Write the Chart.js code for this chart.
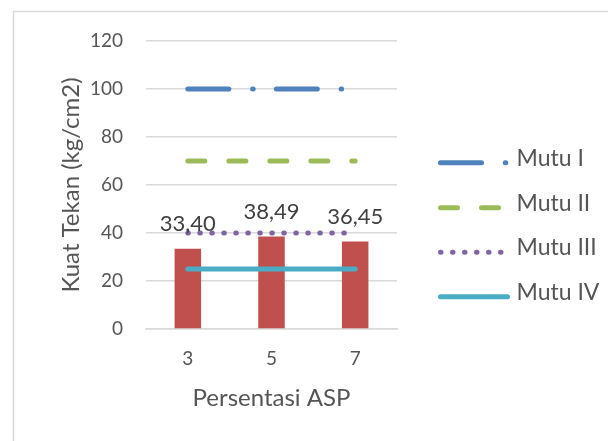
<!DOCTYPE html>
<html>
<head>
<meta charset="utf-8">
<script src="https://cdn.jsdelivr.net/npm/chart.js@4.4.1/dist/chart.umd.min.js"></script>
<style>
  html, body { margin: 0; padding: 0; background: #ffffff; }
  #wrap { width: 608px; height: 441px; position: relative; }
</style>
</head>
<body>
<div id="wrap"><canvas id="c" width="608" height="441"></canvas></div>
<script>
// Persentasi ASP categories
const categories = ['3', '5', '7'];
// Measured compressive strength (kg/cm2)
const kuatTekan = [33.40, 38.49, 36.45];
// Quality class reference levels
const mutuNames = ['Mutu I', 'Mutu II', 'Mutu III', 'Mutu IV'];
const mutuLevels = [100, 70, 40, 25];
const yTicks = [0, 20, 40, 60, 80, 100, 120];

const mutuColors = ['#4F81BD', '#9BBB59', '#8064A2', '#4BACC6'];
const mutuDash = [[41, 23.8, 0.5, 23.2], [17, 24], [0.5, 11.5], []];

const FONT = 'Lato, "Open Sans", sans-serif';
const GREY = '#555555';

const lineSets = mutuNames.map((name, i) => ({
  type: 'line',
  label: name,
  data: categories.map(() => mutuLevels[i]),
  borderColor: mutuColors[i],
  backgroundColor: mutuColors[i],
  borderWidth: 5,
  borderDash: mutuDash[i],
  borderCapStyle: 'round',
  pointRadius: 0,
  pointHoverRadius: 0,
  tension: 0,
  order: 0
}));

// Light frame around the chart
const framePlugin = {
  id: 'frame',
  beforeDraw(chart) {
    const ctx = chart.ctx;
    ctx.save();
    ctx.fillStyle = '#ffffff';
    ctx.fillRect(0, 0, chart.width, chart.height);
    ctx.strokeStyle = '#d9d9d9';
    ctx.lineWidth = 1.5;
    ctx.strokeRect(13.5, 11.5, 800, 600);
    ctx.restore();
  }
};

// Value labels above the bars, comma decimals
const barLabelPlugin = {
  id: 'barLabels',
  afterDatasetsDraw(chart) {
    const ctx = chart.ctx;
    const meta = chart.getDatasetMeta(0);
    ctx.save();
    ctx.font = '22px ' + FONT;
    ctx.fillStyle = '#404040';
    ctx.textAlign = 'center';
    ctx.textBaseline = 'alphabetic';
    meta.data.forEach((bar, i) => {
      const txt = kuatTekan[i].toFixed(2).replace('.', ',');
      ctx.fillText(txt, bar.x, bar.y - 17.4);
    });
    ctx.restore();
  }
};

// Legend on the right, drawn with each line's own dash style
const legendPlugin = {
  id: 'sideLegend',
  afterDraw(chart) {
    const ctx = chart.ctx;
    const x0 = 440.5, x1 = 507.5, textX = 516.5;
    const ys = [162.7, 207.7, 252.2, 296.7];
    ctx.save();
    chart.data.datasets.forEach((ds, k) => {
      if (ds.type !== 'line') return;
      const i = k - 1;
      const y = ys[i];
      ctx.strokeStyle = ds.borderColor;
      ctx.lineWidth = ds.borderWidth;
      ctx.lineCap = 'round';
      ctx.setLineDash(ds.borderDash);
      ctx.beginPath();
      ctx.moveTo(x0, y);
      ctx.lineTo(x1, y);
      ctx.stroke();
      ctx.setLineDash([]);
      ctx.font = '23px ' + FONT;
      ctx.fillStyle = GREY;
      ctx.textAlign = 'left';
      ctx.textBaseline = 'alphabetic';
      ctx.fillText(ds.label, textX, y + 2.8);
    });
    ctx.restore();
  }
};

new Chart(document.getElementById('c'), {
  data: {
    labels: categories,
    datasets: [
      {
        type: 'bar',
        label: 'Kuat Tekan',
        data: kuatTekan,
        backgroundColor: '#C0504D',
        borderWidth: 0,
        categoryPercentage: 1,
        barPercentage: 0.317,
        order: 1
      },
      ...lineSets
    ]
  },
  options: {
    responsive: false,
    animation: false,
    events: [],
    layout: { padding: { left: 0, right: 211, top: 41, bottom: 0 } },
    plugins: {
      legend: { display: false },
      tooltip: { enabled: false }
    },
    scales: {
      x: {
        type: 'category',
        offset: true,
        grid: { display: false, drawTicks: false },
        border: { display: true, color: '#d9d9d9', width: 1.5 },
        ticks: { color: GREY, font: { family: FONT, size: 19 }, padding: 18 },
        title: {
          display: true,
          text: 'Persentasi ASP',
          color: GREY,
          font: { family: FONT, size: 24 },
          padding: { top: 0, bottom: 28.6 }
        },
        afterFit(scale) { scale.height = 112; }
      },
      y: {
        min: 0,
        max: 120,
        afterBuildTicks(scale) { scale.ticks = yTicks.map(v => ({ value: v })); },
        grid: { color: '#d9d9d9', lineWidth: 1.5, drawTicks: false },
        border: { display: false },
        ticks: { color: GREY, font: { family: FONT, size: 19 }, padding: 23 },
        title: {
          display: true,
          text: 'Kuat Tekan (kg/cm2)',
          color: GREY,
          font: { family: FONT, size: 24 },
          padding: { top: 56.6, bottom: 0 }
        },
        afterFit(scale) { scale.width = 146; }
      }
    }
  },
  plugins: [framePlugin, barLabelPlugin, legendPlugin]
});
</script>
</body>
</html>
